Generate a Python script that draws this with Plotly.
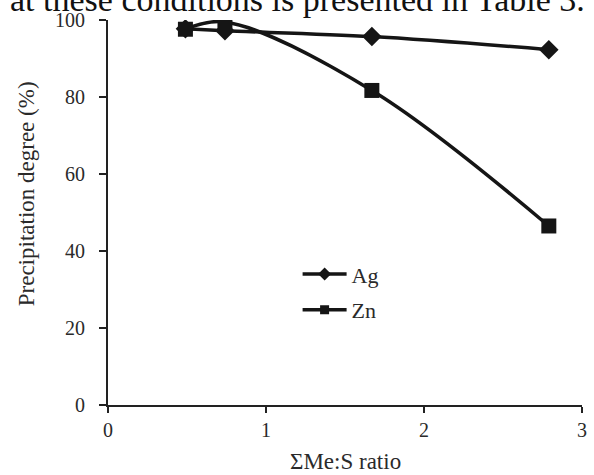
import plotly.graph_objects as go

ratio = [0.49, 0.74, 1.67, 2.79]
ag = [97.7, 97.2, 95.7, 92.3]
zn = [97.6, 99.5, 81.7, 46.5]
series_names = ["Ag", "Zn"]
x_ticks = [0, 1, 2, 3]
y_ticks = [0, 20, 40, 60, 80, 100]

FONT = "Liberation Serif"
INK = "#151515"
TXT = "#2a2a2a"

fig = go.Figure()
fig.add_trace(go.Scatter(
    x=ratio, y=ag, name=series_names[0], mode="lines+markers", showlegend=False,
    line=dict(color=INK, width=3.5, shape="spline", smoothing=1),
    marker=dict(symbol="diamond", size=15, color=INK),
))
fig.add_trace(go.Scatter(
    x=ratio, y=zn, name=series_names[1], mode="lines+markers", showlegend=False,
    line=dict(color=INK, width=3.5, shape="spline", smoothing=1),
    marker=dict(symbol="square", size=15, color=INK),
))
# legend-only entries (smaller symbols, like the original legend)
fig.add_trace(go.Scatter(
    x=[None], y=[None], name=series_names[0], mode="lines+markers", legendgroup="a",
    line=dict(color=INK, width=3.5), marker=dict(symbol="diamond", size=10, color=INK),
))
fig.add_trace(go.Scatter(
    x=[None], y=[None], name=series_names[1], mode="lines+markers", legendgroup="b",
    line=dict(color=INK, width=3.5), marker=dict(symbol="square", size=9, color=INK),
))

fig.add_annotation(
    text="at these conditions is presented in Table 3.",
    xref="paper", yref="paper", x=-0.21, y=1.0525,
    xanchor="left", yanchor="middle", showarrow=False,
    font=dict(family=FONT, size=34, color="#111"),
)
fig.add_annotation(
    text="Precipitation degree (%)", textangle=-90,
    xref="paper", yref="paper", x=-0.173, y=0.55,
    xanchor="center", yanchor="middle", showarrow=False,
    font=dict(family=FONT, size=23, color=TXT),
)
fig.add_annotation(
    text="ΣMe:S ratio",
    xref="paper", yref="paper", x=0.5, y=-0.148,
    xanchor="center", yanchor="middle", showarrow=False,
    font=dict(family=FONT, size=23, color=TXT),
)

fig.update_layout(
    width=594, height=475,
    margin=dict(l=108, r=7, t=20, b=70),
    paper_bgcolor="white", plot_bgcolor="white",
    font=dict(family=FONT, size=20, color=TXT),
    showlegend=True,
    legend=dict(
        x=0.40, y=0.394, xanchor="left", yanchor="top",
        bgcolor="rgba(0,0,0,0)", font=dict(family=FONT, size=22, color=TXT),
        tracegroupgap=4, itemwidth=44,
    ),
    xaxis=dict(
        range=[0, 3], tickvals=x_ticks, ticktext=[str(v) for v in x_ticks],
        showgrid=False, zeroline=False, showline=True, linecolor="#222", linewidth=2,
        ticks="outside", ticklen=6, tickwidth=2, tickcolor="#222",
    ),
    yaxis=dict(
        range=[0, 100], tickvals=y_ticks,
        showgrid=False, zeroline=False, showline=True, linecolor="#222", linewidth=2,
        ticks="outside", ticklen=7, tickwidth=2, tickcolor="#222",
        ticklabelstandoff=10,
    ),
)

fig.write_html("out.html")
